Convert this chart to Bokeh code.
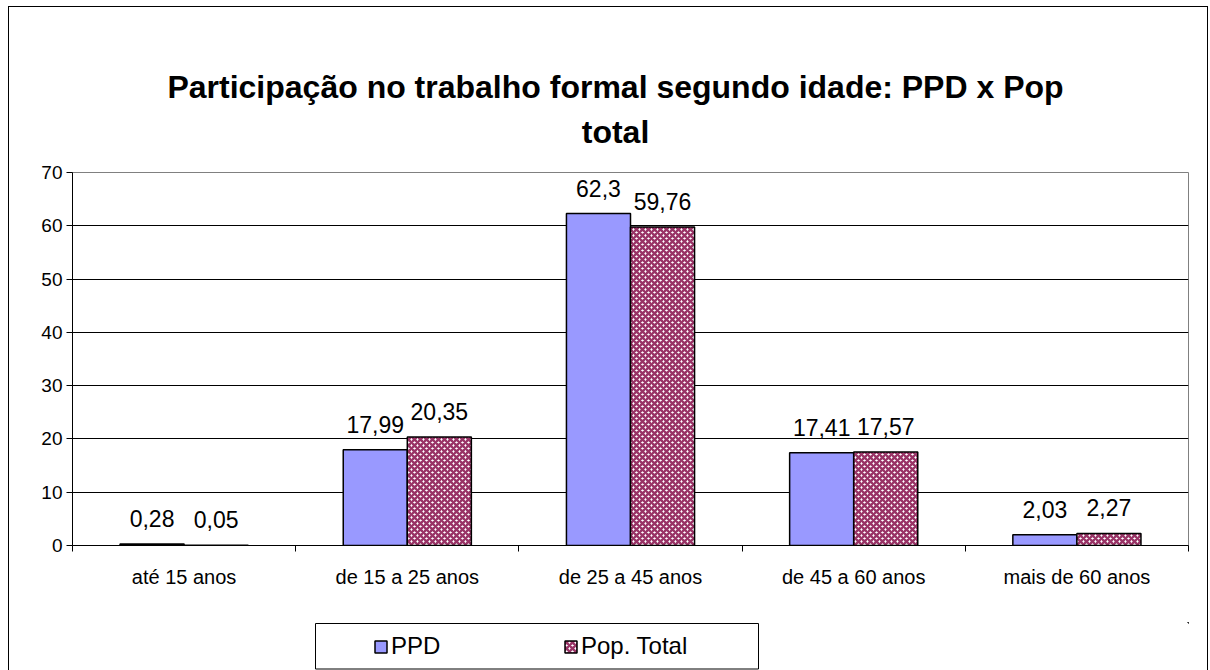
from bokeh.plotting import figure
from bokeh.layouts import column
from bokeh.models import (ColumnDataSource, FixedTicker, LabelSet, Legend, LegendItem, Label,
                          BoxAnnotation)
from bokeh.core.properties import value
from bokeh.embed import file_html
from bokeh.resources import INLINE

categories = ["até 15 anos", "de 15 a 25 anos", "de 25 a 45 anos", "de 45 a 60 anos", "mais de 60 anos"]
ppd = [0.28, 17.99, 62.3, 17.41, 2.03]
pop_total = [0.05, 20.35, 59.76, 17.57, 2.27]
y_ticks = [0, 10, 20, 30, 40, 50, 60, 70]
series_names = ["PPD", "Pop. Total"]
title_lines = ["Participação no trabalho formal segundo idade: PPD x Pop", "total"]

FONT = "Liberation Sans"
PPD_COLOR = "#9999FF"
MAROON = "#993366"

bar_w = 0.287
centers = [i + 0.5 for i in range(len(categories))]


def fmt(v):
    return str(v).replace(".", ",")


src_ppd = ColumnDataSource(dict(x=[c - bar_w / 2 for c in centers], top=ppd,
                                label=[fmt(v) for v in ppd]))
src_pop = ColumnDataSource(dict(x=[c + bar_w / 2 for c in centers], top=pop_total,
                                label=[fmt(v) for v in pop_total]))

PPD_STYLE = dict(fill_color=PPD_COLOR, line_color="#000000", line_width=1.5)
POP_STYLE = dict(fill_color="#FFFFFF", line_color="#000000", line_width=1.5,
                 hatch_pattern="x", hatch_color=MAROON, hatch_scale=6, hatch_weight=2.4)

BORDER_L, BORDER_R = 63, 19
FRAME_W = 1198 - BORDER_L - BORDER_R

# ---- title strip (pixel-scaled ranges so the lines sit where the reference has them)
TITLE_H = 153
tf = figure(width=1198, height=TITLE_H, output_backend="svg", toolbar_location=None,
            x_range=(0, FRAME_W), y_range=(0, TITLE_H),
            x_axis_location=None, y_axis_location=None,
            min_border_left=BORDER_L, min_border_right=BORDER_R, min_border_top=0,
            min_border_bottom=0)
tf.grid.visible = False
tf.outline_line_color = None
for txt, ty in zip(title_lines, (74, 29)):
    tf.add_layout(Label(x=543, y=ty, text=txt, text_align="center", text_baseline="alphabetic",
                        text_font=FONT, text_font_size="32px", text_font_style="bold",
                        text_color="#000000"))

# ---- main chart
p = figure(width=1198, height=462, output_backend="svg", toolbar_location=None,
           x_range=(0, len(categories)), y_range=(0, 70),
           min_border_left=BORDER_L, min_border_right=BORDER_R, min_border_top=12,
           min_border_bottom=77)

r1 = p.vbar(x="x", top="top", width=bar_w, bottom=0, source=src_ppd, **PPD_STYLE)
r2 = p.vbar(x="x", top="top", width=bar_w, bottom=0, source=src_pop, **POP_STYLE)

for src in (src_ppd, src_pop):
    p.add_layout(LabelSet(x="x", y="top", text="label", source=src, text_align="center",
                          text_baseline="alphabetic", y_offset=17, text_font=value(FONT),
                          text_font_size="23px", text_color="#000000"))

p.xaxis.ticker = FixedTicker(ticks=centers, minor_ticks=list(range(len(categories) + 1)))
p.xaxis.major_label_overrides = {c: cat for c, cat in zip(centers, categories)}
p.xaxis.major_tick_line_color = None
p.xaxis.major_tick_out = 0
p.xaxis.major_tick_in = 0
p.xaxis.minor_tick_line_color = "#000000"
p.xaxis.minor_tick_out = 6
p.xaxis.minor_tick_in = 0
p.xaxis.major_label_standoff = 14
p.xaxis.major_label_text_font_size = "20px"
p.yaxis.ticker = FixedTicker(ticks=y_ticks)
p.yaxis.minor_tick_line_color = None
p.yaxis.major_tick_out = 6
p.yaxis.major_tick_in = 0
p.yaxis.major_label_standoff = 4
p.yaxis.major_label_text_font_size = "19px"
for ax in (p.xaxis[0], p.yaxis[0]):
    ax.axis_line_color = "#000000"
    ax.axis_line_width = 1
    ax.major_label_text_font = FONT
    ax.major_label_text_color = "#000000"
p.yaxis.major_tick_line_color = "#000000"

p.xgrid.grid_line_color = None
p.ygrid.grid_line_color = "#000000"
p.ygrid.grid_line_width = 1
p.outline_line_color = "#808080"
p.outline_line_width = 1

# ---- legend strip below the chart; the bars it carries lie far outside its view
lf = figure(width=1198, height=50, output_backend="svg", toolbar_location=None,
            x_range=(-101, -100), y_range=(-101, -100),
            x_axis_location=None, y_axis_location=None,
            min_border_left=BORDER_L, min_border_right=BORDER_R, min_border_top=0,
            min_border_bottom=2)
lf.grid.visible = False
lf.outline_line_color = None
l1 = lf.vbar(x="x", top="top", width=bar_w, bottom=0, source=src_ppd, **PPD_STYLE)
l2 = lf.vbar(x="x", top="top", width=bar_w, bottom=0, source=src_pop, **POP_STYLE)
legend = Legend(items=[LegendItem(label=series_names[0], renderers=[l1]),
                       LegendItem(label=series_names[1], renderers=[l2])],
                orientation="horizontal", location=(301, 10),
                border_line_color=None, background_fill_alpha=0, padding=0, margin=0,
                glyph_width=15, glyph_height=15, label_standoff=3, label_width=160, spacing=12,
                label_text_font=FONT, label_text_font_size="24px", label_text_color="#000000")
lf.add_layout(legend, "center")
legend_box = BoxAnnotation(left=243, right=686, top=47, bottom=1.5,
                           left_units="screen", right_units="screen",
                           top_units="screen", bottom_units="screen",
                           fill_color=None, fill_alpha=0, line_color="#000000",
                           line_alpha=1, line_width=1, line_dash="solid")
lf.add_layout(legend_box)

layout = column(tf, p, lf, spacing=0)
layout.styles = {"border": "1px solid #000000", "margin-left": "8px", "margin-top": "6px"}

open("out.html", "w").write(file_html(layout, INLINE))
